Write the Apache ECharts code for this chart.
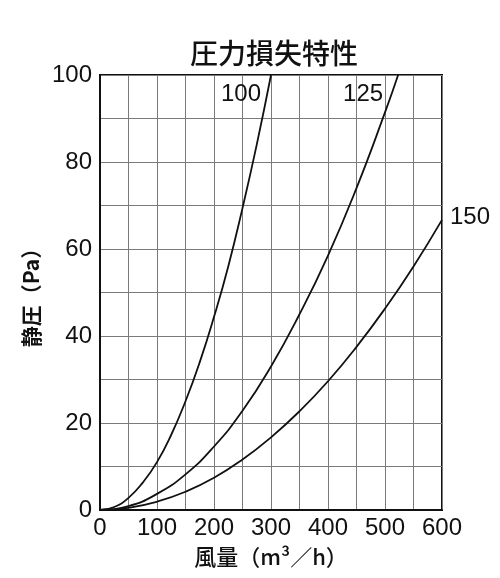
<!DOCTYPE html>
<html>
<head>
<meta charset="utf-8">
<script src="https://cdn.jsdelivr.net/npm/echarts@6/dist/echarts.min.js"></script>
<style>
  html, body { margin: 0; padding: 0; background: #fff; }
</style>
</head>
<body>
<!-- 图表容器 -->
<div id="chart" style="width:500px; height:578px;"></div>
<script>
// 各曲线数据 [风量, 静压]
var flow100 = [0, 25, 50, 75, 100, 125, 150, 175, 200, 225, 250, 275, 300];
var pa100   = [0, 0.7, 2.8, 6.3, 11, 17.3, 25, 34, 44.4, 56, 69.4, 84, 100];
var flow125 = [0, 50, 100, 150, 200, 250, 300, 350, 400, 450, 500, 523];
var pa125   = [0, 0.9, 3.7, 8.2, 14.6, 22.8, 33, 45, 58.5, 74, 91.4, 100];
var flow150 = [0, 50, 100, 150, 200, 250, 300, 350, 400, 450, 500, 550, 600];
var pa150   = [0, 0.5, 1.9, 4.2, 7.4, 11.6, 16.7, 22.7, 29.6, 37.5, 46.3, 56, 66.7];
var seriesNames = ['100', '125', '150'];

function pairs(xs, ys) {
	var out = [];
	for (var i = 0; i < xs.length; i++) out.push([xs[i], ys[i]]);
	return out;
}

var font = 'Liberation Sans, Arial, sans-serif';
var cjk = '"Noto Sans CJK JP", sans-serif';

var myChart = echarts.init(document.getElementById('chart'));
myChart.setOption({
	animation: false,
	title: {
		text: '圧力損失特性',
		left: 269,
		textAlign: 'center',
		top: 34,
		textStyle: { fontFamily: cjk, fontSize: 28, fontWeight: 500, color: '#111' }
	},
	grid: {
		left: 100, right: 58, top: 75, bottom: 68,
		show: true, borderColor: '#111', borderWidth: 2
	},
	xAxis: {
		type: 'value', min: 0, max: 600, interval: 100,
		name: '風量（m³／h）',
		nameLocation: 'middle', nameGap: 36,
		nameTextStyle: { fontFamily: cjk, fontSize: 22, fontWeight: 500, color: '#111' },
		axisLine: { show: true, lineStyle: { color: '#111', width: 2 } },
		axisTick: { show: false },
		axisLabel: { fontFamily: font, fontSize: 24, color: '#111', margin: 6 },
		splitLine: { show: true, lineStyle: { color: '#7a7a7a', width: 1 } },
		minorTick: { show: false, splitNumber: 2 },
		minorSplitLine: { show: true, lineStyle: { color: '#7a7a7a', width: 1 } }
	},
	yAxis: {
		type: 'value', min: 0, max: 100, interval: 20,
		name: '静圧（Pa）',
		nameLocation: 'middle', nameGap: 50, nameRotate: 90,
		nameTextStyle: { fontFamily: cjk, fontSize: 21, fontWeight: 'bold', color: '#111' },
		axisLine: { show: true, lineStyle: { color: '#111', width: 2 } },
		axisTick: { show: false },
		axisLabel: { fontFamily: font, fontSize: 24, color: '#111', margin: 8 },
		splitLine: { show: true, lineStyle: { color: '#7a7a7a', width: 1 } },
		minorTick: { show: false, splitNumber: 2 },
		minorSplitLine: { show: true, lineStyle: { color: '#7a7a7a', width: 1 } }
	},
	series: [
		{
			name: seriesNames[0], type: 'line', smooth: true, symbol: 'none',
			data: pairs(flow100, pa100),
			lineStyle: { color: '#111', width: 1.8 },
			endLabel: { show: true, formatter: seriesNames[0], fontFamily: font, fontSize: 24, color: '#111', offset: [-58, 19] }
		},
		{
			name: seriesNames[1], type: 'line', smooth: true, symbol: 'none',
			data: pairs(flow125, pa125),
			lineStyle: { color: '#111', width: 1.8 },
			endLabel: { show: true, formatter: seriesNames[1], fontFamily: font, fontSize: 24, color: '#111', offset: [-63, 19] }
		},
		{
			name: seriesNames[2], type: 'line', smooth: true, symbol: 'none',
			data: pairs(flow150, pa150),
			lineStyle: { color: '#111', width: 1.8 },
			endLabel: { show: true, formatter: seriesNames[2], fontFamily: font, fontSize: 24, color: '#111', offset: [0, -2] }
		}
	]
});
</script>
</body>
</html>
